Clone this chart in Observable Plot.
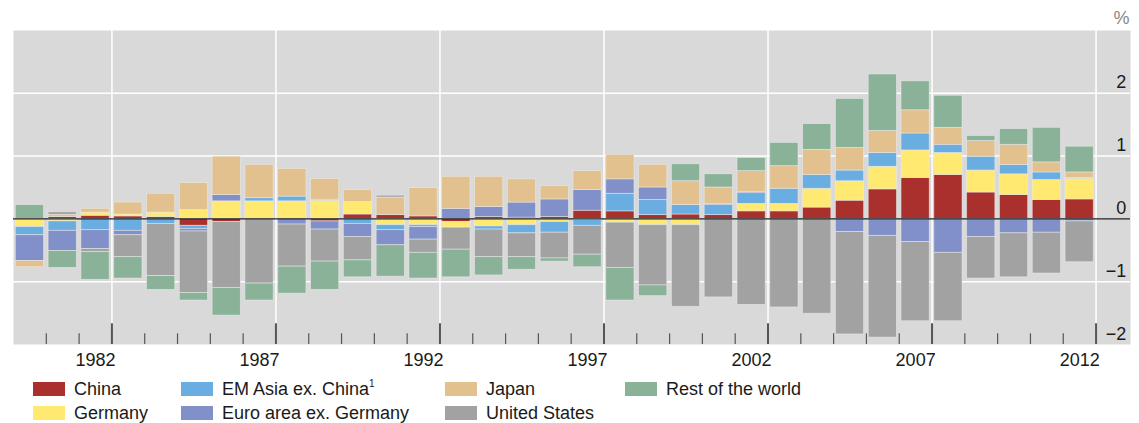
<!DOCTYPE html>
<html><head><meta charset="utf-8">
<script src="https://cdn.jsdelivr.net/npm/d3@7"></script>
<script src="https://cdn.jsdelivr.net/npm/@observablehq/plot@0.6"></script>
<style>
body{margin:0;background:#fff;font-family:"Liberation Sans",Arial,sans-serif;}
#legend{position:relative;height:51px;font-size:18px;color:#1a1a1a;}
.item{position:absolute;display:flex;align-items:center;height:24px;white-space:nowrap;}
.sw{width:32px;height:14px;margin-right:9px;flex:none;}
sup{font-size:10px;vertical-align:8px;line-height:0;}
</style></head><body>
<div id="chart"></div>
<div id="legend"></div>
<script>
const years = [1980,1981,1982,1983,1984,1985,1986,1987,1988,1989,1990,1991,1992,1993,1994,1995,1996,1997,1998,1999,2000,2001,2002,2003,2004,2005,2006,2007,2008,2009,2010,2011,2012];
const seriesNames = ["China","Germany","EM Asia ex. China","Euro area ex. Germany","Japan","United States","Rest of the world"];
const china = [0,0.03,0.05,0.04,0.03,-0.11,-0.05,0,0,-0.04, 0.07,0.06,0.04,-0.05,0.03,0.02,0.03,0.13,0.12,0.06, 0.07,0.06,0.12,0.12,0.18,0.29,0.47,0.65,0.70,0.42, 0.38,0.30,0.31];
const germany = [-0.13,-0.04,0.05,0.03,0.07,0.14,0.28,0.28,0.28,0.29, 0.20,-0.10,-0.10,-0.09,-0.12,-0.10,-0.05,-0.02,-0.06,-0.10, -0.10,0,0.12,0.12,0.30,0.31,0.36,0.44,0.35,0.35, 0.33,0.32,0.33];
const emAsia = [-0.13,-0.15,-0.18,-0.19,-0.08,-0.05,0,0.05,0.075,0.015, -0.08,-0.08,-0.03,0,-0.05,-0.13,-0.17,-0.09,0.28,0.24, 0.15,0.16,0.17,0.24,0.22,0.17,0.22,0.27,0.13,0.22, 0.15,0.12,0.01];
const euroArea = [-0.41,-0.32,-0.30,-0.07,0,-0.04,0.10,0,-0.09,-0.13, -0.21,-0.24,-0.20,0.16,0.16,0.24,0.28,0.33,0.23,0.20, 0,0.02,0.02,0,0,-0.21,-0.27,-0.37,-0.54,-0.29, -0.23,-0.22,-0.04];
const japan = [-0.10,0.035,0.06,0.19,0.30,0.43,0.61,0.53,0.44,0.33, 0.19,0.28,0.45,0.51,0.48,0.37,0.21,0.30,0.39,0.36, 0.38,0.26,0.33,0.36,0.40,0.36,0.35,0.37,0.27,0.25, 0.32,0.16,0.09];
const unitedStates = [0,0.04,-0.05,-0.35,-0.83,-0.98,-1.05,-1.03,-0.67,-0.51, -0.37,0.03,-0.21,-0.35,-0.44,-0.38,-0.41,-0.46,-0.72,-0.96, -1.30,-1.25,-1.37,-1.41,-1.51,-1.63,-1.62,-1.26,-1.09,-0.66, -0.70,-0.65,-0.65];
const restOfWorld = [0.22,-0.27,-0.44,-0.34,-0.22,-0.12,-0.44,-0.27,-0.43,-0.45, -0.27,-0.50,-0.41,-0.44,-0.29,-0.20,-0.05,-0.20,-0.52,-0.17, 0.27,0.21,0.21,0.37,0.41,0.78,0.90,0.46,0.51,0.08, 0.25,0.55,0.41];
const seriesColors = ["#a9302d","#ffe971","#6aade0","#8190c8","#e2c18f","#a2a2a2","#8ab299"];
const labelYears = [1982,1987,1992,1997,2002,2007,2012];
const yTicks = [-2,-1,0,1,2];
const gridY = [-1,1,2];
const longTicks = [1982.5,1987.5,1992.5,1997.5,2002.5,2007.5,2012.5];
const shortTicks = [1980.5,1981.5,1983.5,1984.5,1985.5,1986.5,1988.5,1989.5,1990.5,1991.5,1993.5,1994.5,1995.5,1996.5,1998.5,1999.5,2000.5,2001.5,2003.5,2004.5,2005.5,2006.5,2008.5,2009.5,2010.5,2011.5];
const legendRows = [["China","EM Asia ex. China","Japan","Rest of the world"],["Germany","Euro area ex. Germany","United States"]];

const seriesValues = [china, germany, emAsia, euroArea, japan, unitedStates, restOfWorld];
const rows = [];
years.forEach((yr, i) => seriesNames.forEach((s, j) => {
  const v = seriesValues[j][i];
  if (v !== 0) rows.push({year: yr, series: s, value: v});
}));

const chart = Plot.plot({
  width: 1139, height: 372,
  marginLeft: 13, marginRight: 9, marginTop: 30, marginBottom: 28,
  style: {fontFamily: "'Liberation Sans', Arial, sans-serif", fontSize: "18px", color: "#1a1a1a", background: "transparent", overflow: "visible"},
  x: {type: "linear", domain: [1979.5, 2013.55], axis: null},
  y: {domain: [-2, 3], axis: null},
  color: {domain: seriesNames, range: seriesColors},
  marks: [
    Plot.frame({fill: "#d9d9d9", stroke: "none"}),
    Plot.ruleY(gridY, {stroke: "white", strokeWidth: 1.5}),
    Plot.ruleX(longTicks, {stroke: "white", strokeWidth: 1.5}),
    Plot.rectY(rows, Plot.stackY({x: "year", x1: d => d.year - 0.43, x2: d => d.year + 0.43, y: "value", fill: "series", stroke: "#efefef", strokeOpacity: 0.6, strokeWidth: 0.8})),
    Plot.ruleY([0], {stroke: "#222", strokeWidth: 1.2}),
    Plot.ruleX(shortTicks, {y1: -2, y2: -1.83, stroke: "#555", strokeWidth: 1.2}),
    Plot.ruleX(longTicks, {y1: -2, y2: -1.67, stroke: "#555", strokeWidth: 2}),
    Plot.text(labelYears, {x: d => d, y: -2, text: d => String(d), lineAnchor: "top", dy: 9}),
    Plot.text(yTicks, {x: 2013.42, y: d => d, text: d => d3.format("d")(d), textAnchor: "end", lineAnchor: "bottom", dy: -5}),
    Plot.text(["%"], {frameAnchor: "top-right", text: d => d, textAnchor: "end", lineAnchor: "bottom", dx: -1, dy: -7, fill: "#888", fontSize: 18})
  ]
});
document.getElementById("chart").appendChild(chart);

const colX = [33, 181, 445, 625];
const legend = d3.select("#legend");
legendRows.forEach((row, r) => row.forEach((name, c) => {
  const item = legend.append("div").attr("class", "item").style("left", colX[c] + "px").style("top", (5 + r * 24) + "px");
  item.append("div").attr("class", "sw").style("background", seriesColors[seriesNames.indexOf(name)]);
  const label = item.append("span").text(name);
  if (name === "EM Asia ex. China") label.append("sup").text("1");
}));
</script>
</body></html>
